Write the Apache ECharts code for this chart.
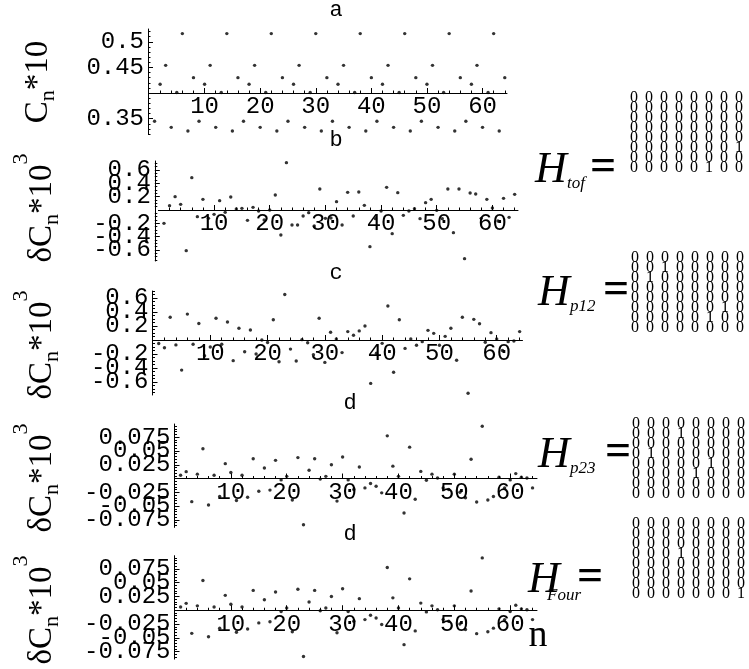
<!DOCTYPE html>
<html>
<head>
<meta charset="utf-8">
<script src="https://cdn.jsdelivr.net/npm/echarts@6/dist/echarts.min.js"></script>
<style>
html,body{margin:0;padding:0;background:#fff;}
#chart{width:749px;height:669px;}
</style>
</head>
<body>
<div id="chart"></div>
<script>
// ---------------- data ----------------
const nIndex = [1,2,3,4,5,6,7,8,9,10,11,12,13,14,15,16,17,18,19,20,21,22,23,24,25,26,27,28,29,30,31,32,
  33,34,35,36,37,38,39,40,41,42,43,44,45,46,47,48,49,50,51,52,53,54,55,56,57,58,59,60,61,62,63,64];

const panelA = [
  0.345,0.417,0.454,0.333,0.401,0.516,0.326,0.430,
  0.345,0.417,0.454,0.333,0.401,0.516,0.326,0.430,
  0.345,0.417,0.454,0.333,0.401,0.516,0.326,0.430,
  0.345,0.417,0.454,0.333,0.401,0.516,0.326,0.430,
  0.345,0.417,0.454,0.333,0.401,0.516,0.326,0.430,
  0.345,0.417,0.454,0.333,0.401,0.516,0.326,0.430,
  0.345,0.417,0.454,0.333,0.401,0.516,0.326,0.430,
  0.345,0.417,0.454,0.333,0.401,0.516,0.326,0.430];

const panelB = [
  -0.20, 0.065, 0.20, 0.085, -0.61, 0.485, -0.10, 0.16,
  -0.125, -0.065, 0.14, -0.035, 0.195, 0.015, 0.025, -0.155,
  0.04, -0.015, -0.15, 0.0, 0.225, -0.375, 0.71, -0.225,
  -0.225, -0.09, -0.04, -0.24, 0.315, -0.125, -0.12, 0.125,
  -0.225, 0.265, -0.09, 0.27, 0.07, -0.55, -0.13, -0.015,
  0.34, -0.355, 0.26, -0.08, -0.015, 0.02, -0.13, 0.11,
  0.16, -0.005, -0.13, 0.315, -0.34, 0.315, -0.73, 0.255,
  0.24, -0.125, 0.16, 0.03, -0.165, 0.175, -0.11, 0.235];

const panelC = [
  -0.05, -0.11, 0.325, -0.07, -0.43, 0.37, -0.06, 0.235,
  -0.225, -0.10, 0.31, -0.06, 0.257, -0.295, 0.167, -0.167,
  0.143, -0.2, 0.0, -0.035, 0.29, -0.31, 0.65, -0.13,
  -0.30, 0.005, -0.04, -0.21, 0.31, -0.32, 0.11, 0.015,
  -0.18, 0.12, 0.067, 0.13, 0.20, -0.62, -0.19, -0.048,
  0.485, -0.46, 0.29, -0.12, 0.015, -0.076, -0.024, 0.138,
  0.095, -0.076, 0.052, 0.167, -0.29, 0.324, -0.76, 0.295,
  0.233, -0.033, 0.105, 0.014, -0.15, -0.024, -0.014, 0.12];

const panelD = [
  0.006, 0.0125, -0.042, 0.008, 0.054, -0.048, 0.006, -0.0325,
  0.027, 0.011, -0.04, 0.006, -0.034, 0.036, -0.023, 0.019,
  -0.021, 0.033, -0.0025, 0.004, -0.039, 0.038, -0.084, 0.015,
  0.036, -0.001, 0.004, 0.025, -0.041, 0.039, -0.0025, -0.02,
  0.021, -0.017, -0.009, -0.014, -0.026, 0.0775, 0.0225, 0.004,
  -0.0625, 0.057, -0.0375, 0.013, -0.003, 0.008, 0.001, -0.017,
  -0.02, 0.008, -0.025, -0.035, 0.035, -0.0425, 0.095, -0.039,
  -0.0325, 0.0025, -0.017, -0.0025, 0.009, 0.0025, 0.001, -0.017];

const panelE = panelD; // the last panel repeats panel d

const panelTitles = ['a', 'b', 'c', 'd', 'd'];

const xMajorTicks = [10, 20, 30, 40, 50, 60];
const xMinorTicks = [2,4,6,8,12,14,16,18,22,24,26,28,32,34,36,38,42,44,46,48,52,54,56,58,62,64];

const yTicksA = [0.35, 0.4, 0.45, 0.5];
const yLabelsA = [0.35, 0.45, 0.5];
const yLabelsA2 = [];
const yMinorA = [0.32,0.33,0.34,0.36,0.37,0.38,0.39,0.41,0.42,0.43,0.44,0.46,0.47,0.48,0.49,0.51,0.52];

const yTicksB = [-0.6, -0.4, -0.2, 0.2, 0.4, 0.6];
const yLabelsB = [-0.6, -0.2, 0.2, 0.6];
const yLabelsB2 = [-0.4, 0.4];
const yMinorB = [-0.75,-0.7,-0.65,-0.55,-0.5,-0.45,-0.35,-0.3,-0.25,-0.15,-0.1,-0.05,
                 0.05,0.1,0.15,0.25,0.3,0.35,0.45,0.5,0.55,0.65,0.7];

const yTicksD = [-0.075, -0.05, -0.025, 0.025, 0.05, 0.075];
const yLabelsD = [-0.075, -0.025, 0.025, 0.075];
const yLabelsD2 = [-0.05, 0.05];
const yMinorD = [-0.085,-0.08,-0.07,-0.065,-0.06,-0.055,-0.045,-0.04,-0.035,-0.03,-0.02,-0.015,-0.01,-0.005,
                 0.005,0.01,0.015,0.02,0.03,0.035,0.04,0.045,0.055,0.06,0.065,0.07,0.08,0.085,0.09,0.095];

const matTof  = ['00000000','00000000','00000000','00000000','00000000','00000001','00000000','00000100'];
const matP12  = ['00000000','00100000','01000000','00000000','00000000','00000010','00000100','00000000'];
const matP23  = ['00000000','00010000','00000000','01000000','00000100','00001000','00000000','00000000'];
const matFour = ['00000000','00000000','00000000','00010000','00000000','00000000','00000000','00000001'];

// ---------------- layout ----------------
const MONO = '"Liberation Mono","DejaVu Sans Mono",monospace';
const SERIF = '"Liberation Serif","DejaVu Serif",serif';

const panels = [
  {vals: panelA, left:149, top:29,    width:358, height:105, xMax:64.4, yMin:0.32,    yMax:0.525, gap:1,
   cross:0.4, ticks:yTicksA, labels:yLabelsA, labels2:yLabelsA2, minor:yMinorA, title:[336,10], ytitle:[38,82], delta:false},
  {vals: panelB, left:158.4, top:161, width:359.6, height:100, xMax:64.6, yMin:-0.765, yMax:0.735, gap:3.6,
   cross:0, ticks:yTicksB, labels:yLabelsB, labels2:yLabelsB2, minor:yMinorB, title:[336,140], ytitle:[42,208], delta:true},
  {vals: panelC, left:153, top:291,   width:369.5, height:104, xMax:64.5, yMin:-0.786, yMax:0.70, gap:0.5,
   cross:0, ticks:yTicksB, labels:yLabelsB, labels2:yLabelsB2, minor:yMinorB, title:[336,273], ytitle:[42,345], delta:true},
  {vals: panelD, left:175, top:424,   width:362, height:103.4, xMax:64.8, yMin:-0.0887, yMax:0.099, gap:0.5,
   cross:0, ticks:yTicksD, labels:yLabelsD, labels2:yLabelsD2, minor:yMinorD, title:[350,403], ytitle:[42,478], delta:true},
  {vals: panelE, left:175, top:555.7, width:362, height:103.4, xMax:64.8, yMin:-0.0887, yMax:0.099, gap:0.5,
   cross:0, ticks:yTicksD, labels:yLabelsD, labels2:yLabelsD2, minor:yMinorD, title:[350,534], ytitle:[42,610], delta:true}
];

const fmt = v => String(+(+v).toFixed(4));
const labelBase = {show: true, margin: 4, color: '#000', fontFamily: MONO, fontSize: 24, formatter: fmt,
                   showMinLabel: true, showMaxLabel: true, hideOverlap: false};

const grid = [], xAxis = [], yAxis = [], series = [];
const np = panels.length;
panels.forEach((p, i) => {
  grid.push({left: p.left, top: p.top, width: p.width, height: p.height, containLabel: false});
  // the horizontal axis crosses the vertical one at y = p.cross
  const xOffset = -((p.cross - p.yMin) / (p.yMax - p.yMin)) * p.height;
  xAxis[i] = {
    type: 'value', gridIndex: i, min: 0, max: p.xMax, position: 'bottom',
    offset: xOffset,
    axisLine: {show: true, onZero: false, lineStyle: {color: '#000', width: 1}},
    axisTick: {show: true, inside: true, length: 5, customValues: xMajorTicks, lineStyle: {color: '#000', width: 1}},
    axisLabel: Object.assign({}, labelBase, {customValues: xMajorTicks, margin: 2}),
    splitLine: {show: false}
  };
  xAxis[np + i] = {
    type: 'value', gridIndex: i, min: 0, max: p.xMax, position: 'bottom',
    offset: xOffset,
    axisLine: {show: false, onZero: false},
    axisTick: {show: true, inside: true, length: 2.5, customValues: xMinorTicks, lineStyle: {color: '#000', width: 1}},
    axisLabel: {show: false},
    splitLine: {show: false}
  };
  yAxis[i] = {
    type: 'value', gridIndex: i, min: p.yMin, max: p.yMax, position: 'left',
    offset: p.gap,
    axisLine: {show: true, onZero: false, lineStyle: {color: '#000', width: 1}},
    axisTick: {show: true, inside: true, length: 5, customValues: p.ticks, lineStyle: {color: '#000', width: 1}},
    axisLabel: Object.assign({}, labelBase, {customValues: p.labels}),
    splitLine: {show: false}
  };
  yAxis[np + i] = {
    type: 'value', gridIndex: i, min: p.yMin, max: p.yMax, position: 'left',
    offset: p.gap,
    axisLine: {show: false, onZero: false},
    axisTick: {show: true, inside: true, length: 2.5, customValues: p.minor, lineStyle: {color: '#000', width: 1}},
    axisLabel: Object.assign({}, labelBase, {show: p.labels2.length > 0, customValues: p.labels2}),
    splitLine: {show: false}
  };
  series.push({
    type: 'scatter', xAxisIndex: i, yAxisIndex: i,
    data: nIndex.map((n, k) => [n, p.vals[k]]),
    symbol: 'circle', symbolSize: 3.4,
    itemStyle: {color: '#000'},
    silent: true, z: 5
  });
});

// text helpers
const mctx = document.createElement('canvas').getContext('2d');
function textW(t, size, style) {
  mctx.font = (style || '') + ' ' + size + 'px ' + SERIF;
  return mctx.measureText(t).width;
}
function txt(x, y, t, font, align, valign, extra) {
  return Object.assign({
    type: 'text', x: x, y: y, silent: true,
    style: {text: t, font: font, fill: '#000', align: align, verticalAlign: valign,
            textAlign: align, textVerticalAlign: valign}
  }, extra || {});
}
function yTitle(cx, cy, delta) {
  const S = 33, s = 22;
  const parts = delta
    ? [{t: 'δC', f: S, dy: 0}, {t: 'n', f: s, dy: S * 0.3}, {t: '*10', f: S, dy: 0}, {t: '3', f: s, dy: -S * 0.62}]
    : [{t: 'C', f: S, dy: 0}, {t: 'n', f: s, dy: S * 0.3}, {t: '*10', f: S, dy: 0}];
  const total = parts.reduce((a, q) => a + textW(q.t, q.f), 0);
  let x = -total / 2;
  const children = parts.map(q => {
    const el = txt(x, q.dy, q.t, q.f + 'px ' + SERIF, 'left', 'middle');
    x += textW(q.t, q.f);
    return el;
  });
  return {type: 'group', x: cx, y: cy, rotation: Math.PI / 2, children: children, silent: true};
}

const graphic = [];
panels.forEach((p, i) => {
  graphic.push(txt(p.title[0], p.title[1], panelTitles[i], '22px ' + MONO, 'center', 'middle'));
  graphic.push(yTitle(p.ytitle[0], p.ytitle[1], p.delta));
});
graphic.push(txt(538, 636, 'n', '38px ' + SERIF, 'center', 'middle'));

// matrices with their labels
const mats = [
  {m: matTof,  sub: 'tof',  x0: 634, y0: 98,  hx: 535, hy: 170, subx: 567, suby: 184, eqx: 590},
  {m: matP12,  sub: 'p12',  x0: 635, y0: 258, hx: 538, hy: 293, subx: 570, suby: 307, eqx: 603},
  {m: matP23,  sub: 'p23',  x0: 636, y0: 424, hx: 538, hy: 455, subx: 570, suby: 469, eqx: 605},
  {m: matFour, sub: 'Four', x0: 636, y0: 524, hx: 528, hy: 580, subx: 547, suby: 596, eqx: 577}
];
mats.forEach(M => {
  M.m.forEach((row, r) => {
    row.split('').forEach((d, c) => {
      graphic.push(txt(M.x0 + c * 15, M.y0 + r * 10, d, '16px ' + SERIF, 'center', 'middle'));
    });
  });
  graphic.push(txt(M.hx, M.hy, 'H', 'italic 44px ' + SERIF, 'left', 'middle'));
  graphic.push(txt(M.subx, M.suby, M.sub, 'italic 17px ' + SERIF, 'left', 'middle'));
  graphic.push(txt(M.eqx, M.hy - 2, '=', 'bold 46px ' + SERIF, 'left', 'middle'));
});

const chart = echarts.init(document.getElementById('chart'), null, {renderer: 'canvas'});
chart.setOption({
  backgroundColor: '#fff',
  animation: false,
  grid: grid,
  xAxis: xAxis,
  yAxis: yAxis,
  series: series,
  graphic: graphic
});
</script>
</body>
</html>
